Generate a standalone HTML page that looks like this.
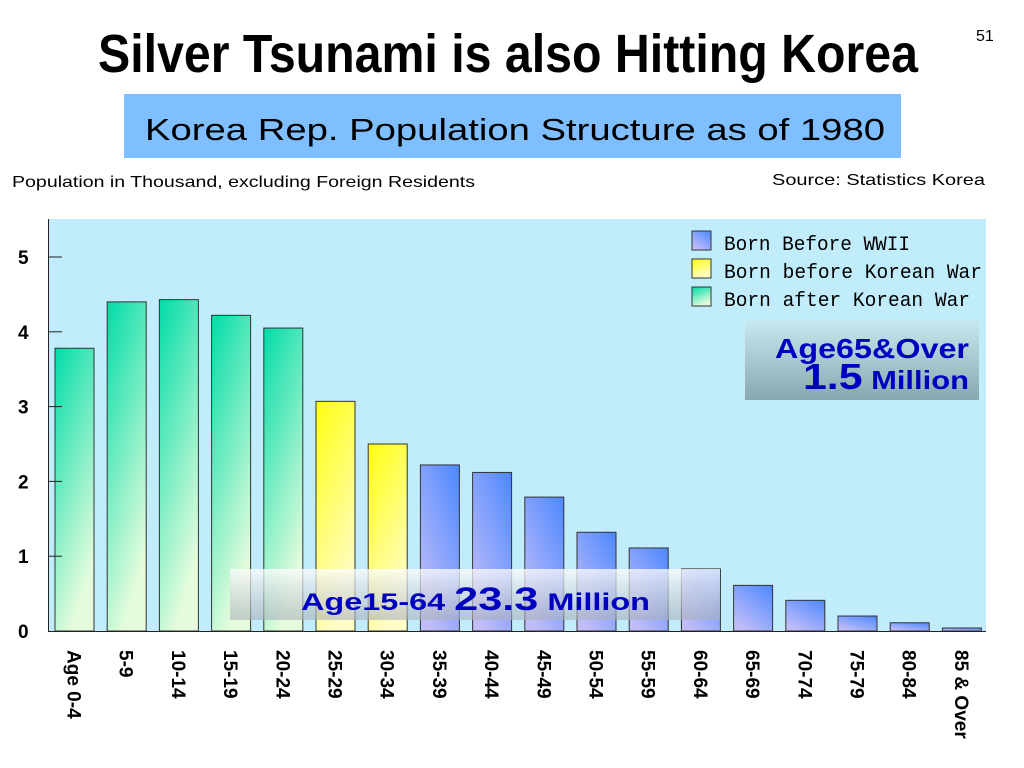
<!DOCTYPE html>
<html><head><meta charset="utf-8"><style>
html,body{margin:0;padding:0;background:#fff;}
svg{display:block;}
text{font-family:"Liberation Sans",sans-serif;}
</style></head><body>
<svg id="chart" width="1024" height="768" viewBox="0 0 1024 768">
<defs>
<linearGradient id="gGreen" x1="0" y1="0" x2="0.4" y2="1"><stop offset="0" stop-color="#00dca8"/><stop offset="1" stop-color="#e4fcdc"/></linearGradient>
<linearGradient id="gYellow" x1="0" y1="0" x2="0.4" y2="1"><stop offset="0" stop-color="#ffff10"/><stop offset="1" stop-color="#fffcc8"/></linearGradient>
<linearGradient id="gBlue" x1="1" y1="0" x2="0.3" y2="1"><stop offset="0" stop-color="#4c88ff"/><stop offset="1" stop-color="#c0bcf8"/></linearGradient>
<linearGradient id="gBox" x1="0" y1="0" x2="0" y2="1"><stop offset="0" stop-color="#c8e8f0"/><stop offset="1" stop-color="#88a8b0"/></linearGradient>
<linearGradient id="gBox2" x1="0" y1="0" x2="0" y2="1"><stop offset="0" stop-color="#ffffff" stop-opacity="0.75"/><stop offset="1" stop-color="#a8b0b8" stop-opacity="0.6"/></linearGradient>
</defs>
<text x="98" y="72" font-size="54" font-weight="bold" textLength="820" lengthAdjust="spacingAndGlyphs" style="font-family:'Liberation Sans Narrow','Liberation Sans',sans-serif">Silver Tsunami is also Hitting Korea</text>
<text x="976" y="41" font-size="16">51</text>
<rect x="124" y="94" width="777" height="64" fill="#80bfff"/>
<text x="145" y="140" font-size="31" textLength="740" lengthAdjust="spacingAndGlyphs">Korea Rep. Population Structure as of 1980</text>
<text x="12" y="187" font-size="16" textLength="463" lengthAdjust="spacingAndGlyphs">Population in Thousand, excluding Foreign Residents</text>
<text x="772" y="185" font-size="16" textLength="213" lengthAdjust="spacingAndGlyphs">Source:  Statistics Korea</text>
<rect x="48" y="219" width="938" height="412" fill="#c0ecfc"/>
<g id="bars"></g>
<g id="axes"></g>
<g>
<rect x="692" y="231" width="19" height="19" fill="url(#gBlue)" stroke="#333"/>
<text x="724" y="250" font-size="20" textLength="186" lengthAdjust="spacingAndGlyphs" style="font-family:'Liberation Mono',monospace">Born Before WWII</text>
<rect x="692" y="259" width="19" height="19" fill="url(#gYellow)" stroke="#333"/>
<text x="724" y="278" font-size="20" textLength="258" lengthAdjust="spacingAndGlyphs" style="font-family:'Liberation Mono',monospace">Born before Korean War</text>
<rect x="692" y="287" width="19" height="19" fill="url(#gGreen)" stroke="#333"/>
<text x="724" y="306" font-size="20" textLength="246" lengthAdjust="spacingAndGlyphs" style="font-family:'Liberation Mono',monospace">Born after Korean War</text>
</g>
<rect x="745" y="321" width="234" height="79" fill="url(#gBox)"/>
<text x="775" y="358" font-size="28" font-weight="bold" fill="#0000c0" textLength="194" lengthAdjust="spacingAndGlyphs">Age65&amp;Over</text>
<text x="803" y="389" font-weight="bold" fill="#0000c0" textLength="166" lengthAdjust="spacingAndGlyphs"><tspan font-size="36">1.5</tspan><tspan font-size="26"> Million</tspan></text>
<rect x="230" y="569" width="490" height="51" fill="url(#gBox2)"/>
<text x="301" y="610" font-weight="bold" fill="#0000c0" textLength="349" lengthAdjust="spacingAndGlyphs"><tspan font-size="24">Age15-64 </tspan><tspan font-size="32">23.3</tspan><tspan font-size="24"> Million</tspan></text>
</svg>
<script>
const categories = ["Age 0-4","5-9","10-14","15-19","20-24","25-29","30-34","35-39","40-44","45-49","50-54","55-59","60-64","65-69","70-74","75-79","80-84","85 & Over"];
const values = [3.78,4.40,4.43,4.22,4.05,3.07,2.50,2.22,2.12,1.79,1.32,1.11,0.83,0.61,0.41,0.20,0.11,0.04];
const groups = ["after","after","after","after","after","korean","korean","wwii","wwii","wwii","wwii","wwii","wwii","wwii","wwii","wwii","wwii","wwii"];
const yTicks = [0,1,2,3,4,5];

const NS = "http://www.w3.org/2000/svg";
const x0 = 55, pitch = 52.2, barW = 39, yBase = 631, pxPerUnit = 74.8;
const yScale = v => yBase - v * pxPerUnit;
const xScale = i => x0 + i * pitch;
const fills = {after:"url(#gGreen)", korean:"url(#gYellow)", wwii:"url(#gBlue)"};
const bars = document.getElementById('bars');
const axes = document.getElementById('axes');
values.forEach((v,i)=>{
  const r = document.createElementNS(NS,'rect');
  r.setAttribute('x', xScale(i));
  r.setAttribute('y', yScale(v));
  r.setAttribute('width', barW);
  r.setAttribute('height', yBase - yScale(v));
  r.setAttribute('fill', fills[groups[i]]);
  r.setAttribute('stroke', '#333');
  r.setAttribute('stroke-width', '1');
  
  
  bars.appendChild(r);
  const t = document.createElementNS(NS,'text');
  const cx = xScale(i) + barW/2 - 7;
  t.setAttribute('transform', 'translate(' + cx + ',650) rotate(90)');
  t.setAttribute('font-size', '19');
  t.setAttribute('font-weight', 'bold');
  t.textContent = categories[i];
  
  
  axes.appendChild(t);
});
const ax = document.createElementNS(NS,'path');
ax.setAttribute('d', 'M48.5,219 V631.5 H986');
ax.setAttribute('stroke', '#222');
ax.setAttribute('fill', 'none');


axes.appendChild(ax);
yTicks.forEach(v=>{
  const y = yScale(v);
  if (v > 0) {
    const l = document.createElementNS(NS,'line');
    l.setAttribute('x1', 48); l.setAttribute('x2', 62);
    l.setAttribute('y1', y); l.setAttribute('y2', y);
    l.setAttribute('stroke', '#222');
    
    
    axes.appendChild(l);
  }
  const t = document.createElementNS(NS,'text');
  t.setAttribute('x', 18); t.setAttribute('y', y + 7);
  t.setAttribute('font-size', '19');
  t.setAttribute('font-weight', 'bold');
  t.textContent = v;
  
  
  axes.appendChild(t);
});
</script>
</body></html>
